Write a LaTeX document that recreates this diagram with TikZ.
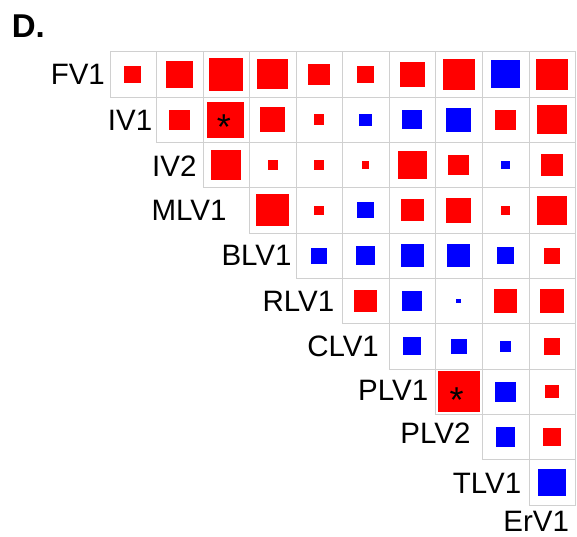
\documentclass[tikz,border=0pt]{standalone}
\usepackage{fontspec}
\setmainfont{Liberation Sans}
\definecolor{rd}{HTML}{FF0000}
\definecolor{bl}{HTML}{0000FF}
\definecolor{gridgray}{HTML}{D0D0D0}
\tikzset{
  gridline/.style={draw=gridgray, line width=1pt},
  lab/.style={anchor=base east, inner sep=0pt, font=\fontsize{29.5}{30}\selectfont},
  starmark/.style={anchor=base, inner sep=0pt, font=\fontsize{36}{36}\selectfont},
  title/.style={anchor=base west, inner sep=0pt, font=\fontsize{33}{34}\selectfont\bfseries}
}
\begin{document}
\begin{tikzpicture}[x=1pt,y=-1pt]
\useasboundingbox (0,0) rectangle (577,536);
\def\W{46.57}
\def\H{45.33}
\def\XO{110}
\def\YO{51.7}
\foreach \i/\j/\w/\c in {
  0/0/17/rd, 0/1/27.5/rd, 0/2/34.2/rd, 0/3/30.8/rd, 0/4/21.3/rd, 0/5/17.7/rd, 0/6/25.3/rd, 0/7/31.7/rd, 0/8/29/bl, 0/9/32.3/rd,
  1/1/20.8/rd, 1/2/37/rd, 1/3/25.8/rd, 1/4/10.7/rd, 1/5/12.7/bl, 1/6/20/bl, 1/7/25/bl, 1/8/20.3/rd, 1/9/30.3/rd,
  2/2/30.8/rd, 2/3/10/rd, 2/4/9.7/rd, 2/5/7.3/rd, 2/6/29/rd, 2/7/21/rd, 2/8/9/bl, 2/9/22.3/rd,
  3/3/33/rd, 3/4/9.3/rd, 3/5/16.3/bl, 3/6/22.7/rd, 3/7/25/rd, 3/8/9.7/rd, 3/9/29.3/rd,
  4/4/16.3/bl, 4/5/19.5/bl, 4/6/23/bl, 4/7/23/bl, 4/8/17/bl, 4/9/16.7/rd,
  5/5/23.2/rd, 5/6/19.7/bl, 5/7/5/bl, 5/8/23.7/rd, 5/9/23.7/rd,
  6/6/18.3/bl, 6/7/16/bl, 6/8/11.7/bl, 6/9/16.8/rd,
  7/7/42/rd, 7/8/20.7/bl, 7/9/13.7/rd,
  8/8/19.7/bl, 8/9/18.7/rd,
  9/9/27.8/bl} {
  \draw[gridline] ({\XO+\j*\W},{\YO+\i*\H}) rectangle ++(\W,\H);
  \fill[\c] ({\XO+(\j+0.5)*\W-\w/2-0.5},{\YO+(\i+0.5)*\H-\w*0.4867}) rectangle ++(\w,{\w*0.9734});
}
% stars
\node[starmark] (star1) at (224,139.4) {*};
\node[starmark] (star2) at (456.7,412.6) {*};
% labels
\node[lab] (lFV1)  at (105.1,84.2)  {FV1};
\node[lab] (lIV1)  at (152.4,130)   {IV1};
\node[lab] (lIV2)  at (196.6,176)   {IV2};
\node[lab] (lMLV1) at (226.7,220)   {MLV1};
\node[lab] (lBLV1) at (291.7,265)   {BLV1};
\node[lab] (lRLV1) at (334.4,311)   {RLV1};
\node[lab] (lCLV1) at (379.1,356.2) {CLV1};
\node[lab] (lPLV1) at (428.4,400.7) {PLV1};
\node[lab] (lPLV2) at (470.6,443.3) {PLV2};
\node[lab] (lTLV1) at (521.4,493.3) {TLV1};
\node[lab] (lErV1) at (569.1,531) {ErV1};
% panel title
\node[title] (ttl) at (11.6,37.3) {D.};
\end{tikzpicture}
\end{document}
